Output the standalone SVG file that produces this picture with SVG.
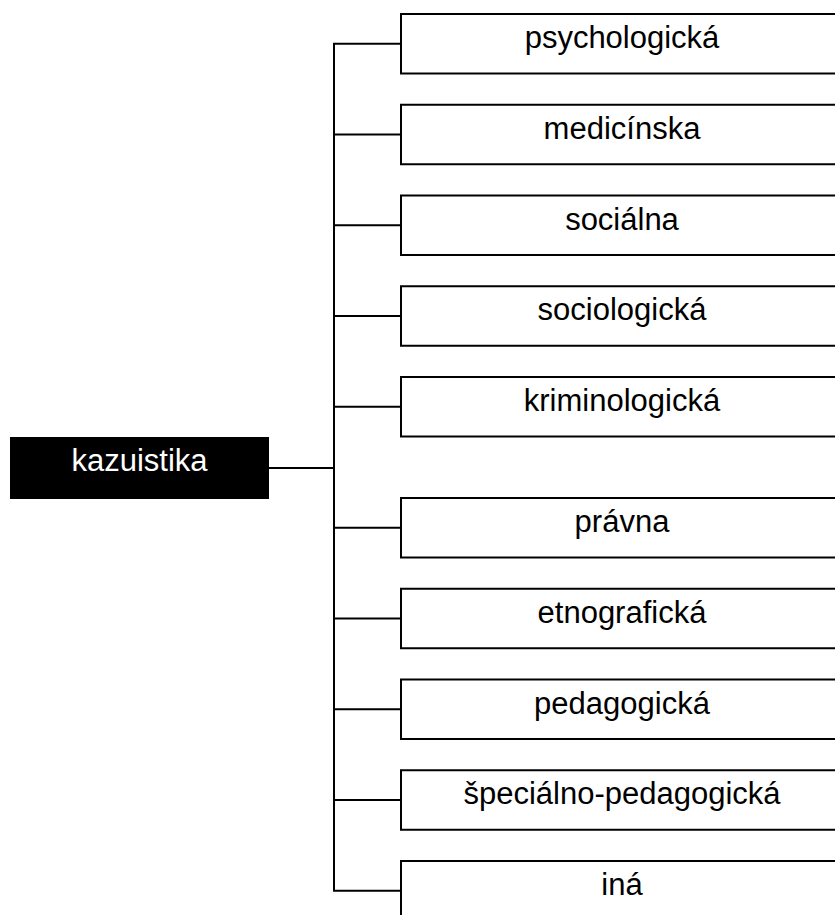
<svg xmlns="http://www.w3.org/2000/svg" width="835" height="915" viewBox="0 0 835 915">
  <style>
    .box { fill: #ffffff; stroke: #000000; stroke-width: 2; }
    .root { fill: #000000; }
    .lbl { font-family: "Liberation Sans", Arial, sans-serif; font-size: 31px; fill: #000000; text-anchor: middle; }
    .root-lbl { font-family: "Liberation Sans", Arial, sans-serif; font-size: 31px; fill: #ffffff; text-anchor: middle; }
    .wire { fill: none; stroke: #000000; stroke-width: 2; }
  </style>

  <!-- connectors -->
  <g id="connectors">
    <line class="wire" x1="269" y1="468" x2="334" y2="468"/>
    <line class="wire" x1="334" y1="43.75" x2="334" y2="890.75"/>
    <line class="wire" x1="333" y1="43.75" x2="401" y2="43.75"/>
    <line class="wire" x1="334" y1="134.5" x2="401" y2="134.5"/>
    <line class="wire" x1="334" y1="225.25" x2="401" y2="225.25"/>
    <line class="wire" x1="334" y1="316" x2="401" y2="316"/>
    <line class="wire" x1="334" y1="406.75" x2="401" y2="406.75"/>
    <line class="wire" x1="334" y1="527.75" x2="401" y2="527.75"/>
    <line class="wire" x1="334" y1="618.5" x2="401" y2="618.5"/>
    <line class="wire" x1="334" y1="709.25" x2="401" y2="709.25"/>
    <line class="wire" x1="334" y1="800" x2="401" y2="800"/>
    <line class="wire" x1="333" y1="890.75" x2="401" y2="890.75"/>
  </g>

  <!-- root node -->
  <g id="kazuistika">
    <rect class="root" x="10" y="437" width="259" height="62"/>
    <text class="root-lbl" x="139.5" y="471">kazuistika</text>
  </g>

  <!-- branch nodes -->
  <g id="psychologicka">
    <rect class="box" x="401" y="14" width="460" height="59.5"/>
    <text class="lbl" x="622" y="48">psychologická</text>
  </g>
  <g id="medicinska">
    <rect class="box" x="401" y="104.75" width="460" height="59.5"/>
    <text class="lbl" x="622" y="138.75">medicínska</text>
  </g>
  <g id="socialna">
    <rect class="box" x="401" y="195.5" width="460" height="59.5"/>
    <text class="lbl" x="622" y="229.5">sociálna</text>
  </g>
  <g id="sociologicka">
    <rect class="box" x="401" y="286.25" width="460" height="59.5"/>
    <text class="lbl" x="622" y="320.25">sociologická</text>
  </g>
  <g id="kriminologicka">
    <rect class="box" x="401" y="377" width="460" height="59.5"/>
    <text class="lbl" x="622" y="411">kriminologická</text>
  </g>
  <g id="pravna">
    <rect class="box" x="401" y="498" width="460" height="59.5"/>
    <text class="lbl" x="622" y="532">právna</text>
  </g>
  <g id="etnograficka">
    <rect class="box" x="401" y="588.75" width="460" height="59.5"/>
    <text class="lbl" x="622" y="622.75">etnografická</text>
  </g>
  <g id="pedagogicka">
    <rect class="box" x="401" y="679.5" width="460" height="59.5"/>
    <text class="lbl" x="622" y="713.5">pedagogická</text>
  </g>
  <g id="specialno-pedagogicka">
    <rect class="box" x="401" y="770.25" width="460" height="59.5"/>
    <text class="lbl" x="622" y="804.25">špeciálno-pedagogická</text>
  </g>
  <g id="ina">
    <rect class="box" x="401" y="861" width="460" height="59.5"/>
    <text class="lbl" x="622" y="895">iná</text>
  </g>
</svg>
